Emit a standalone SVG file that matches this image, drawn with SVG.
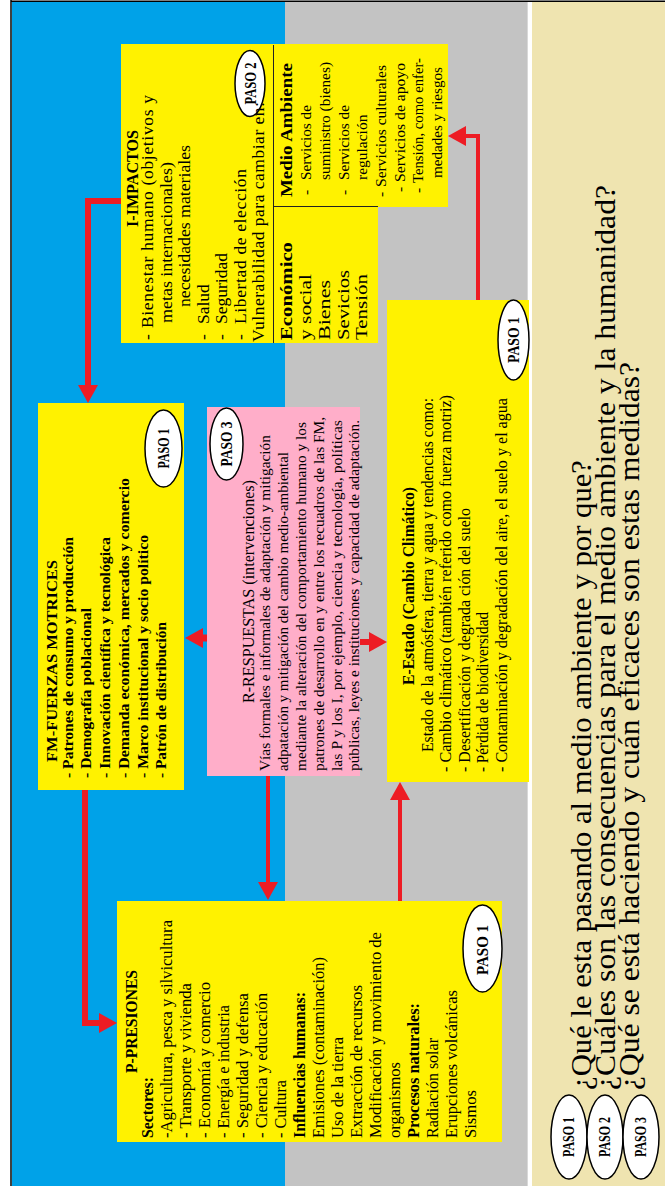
<svg xmlns="http://www.w3.org/2000/svg" width="665" height="1186" viewBox="0 0 665 1186">
<defs>
<style>
.t,.t text{font-family:"Liberation Serif","Times New Roman",serif;fill:#000}
.b{font-weight:bold}
.yb{fill:#FFF200}
.pk{fill:#FFAEC9}
.ar{fill:none;stroke:#ED1C24;stroke-linejoin:miter;marker-end:url(#ah)}
.ov{fill:#fff;stroke:#000;stroke-width:1.5}
.f17{font-size:17.5px}.f155{font-size:15.5px}.f16{font-size:16px}.f15{font-size:15px}.f165{font-size:16.5px}
.pa{font-size:16px;font-weight:bold;text-anchor:middle}
.q{font-size:29px}
</style>
<marker id="ah" viewBox="0 0 18 20" markerWidth="18" markerHeight="20" refX="0" refY="10" orient="auto" markerUnits="userSpaceOnUse">
<path d="M0,0 L18,10 L0,20 z" fill="#ED1C24"/>
</marker>
</defs>
<g id="background">
<rect x="0" y="0" width="665" height="1186" fill="#fff"/>
<rect x="12" y="2" width="273" height="1184" fill="#00A2E8"/>
<rect x="285" y="2" width="242" height="1184" fill="#C3C3C3"/>
<rect x="532" y="2" width="133" height="1184" fill="#EFE4B0"/>
<line x1="527.5" y1="2" x2="527.5" y2="1186" stroke="#d8d8d8" stroke-width="1"/>
<line x1="11" y1="0" x2="11" y2="1186" stroke="#000" stroke-width="1.5"/>
<line x1="11" y1="1.2" x2="665" y2="1.2" stroke="#000" stroke-width="1.5"/>
</g>
<g id="connectors">
<path class="ar" stroke-width="6" d="M121,201 H88 V385"/>
<path class="ar" stroke-width="6" d="M85,790 V1023 H99"/>
<path class="ar" stroke-width="7" d="M207,638 H203"/>
<path class="ar" stroke-width="6" d="M360,642 H369"/>
<path class="ar" stroke-width="4" d="M268,776 V882"/>
<path class="ar" stroke-width="4" d="M400,901 V800"/>
<path class="ar" stroke-width="4" d="M478,300 V136 H466"/>
</g>
<g id="node-impactos">
<path class="yb" d="M121,44 H448 V207 H378 V343 H121 Z"/>
<line x1="273.5" y1="45" x2="273.5" y2="343" stroke="#222" stroke-width="1"/>
<line x1="273.5" y1="206.5" x2="378" y2="206.5" stroke="#222" stroke-width="1"/>
<ellipse class="ov" cx="250" cy="83.5" rx="15" ry="33"/>
<g transform="translate(0,1186) rotate(-90)" class="t">
<text class="b" x="1007.5" y="138" font-size="17" text-anchor="middle" textLength="97" lengthAdjust="spacingAndGlyphs">I-IMPACTOS</text>
<g class="f17">
<text x="846" y="153">-</text><text x="858" y="153" textLength="233" lengthAdjust="spacing">Bienestar humano (objetivos y</text>
<text x="863" y="172" textLength="161" lengthAdjust="spacingAndGlyphs">metas internacionales)</text>
<text x="879" y="190" textLength="162" lengthAdjust="spacingAndGlyphs">necesidades materiales</text>
<text x="846" y="209">-</text><text x="862" y="209">Salud</text>
<text x="846" y="227">-</text><text x="862" y="227">Seguridad</text>
<text x="846" y="246">-</text><text x="862" y="246" textLength="155" lengthAdjust="spacing">Libertad de elección</text>
<text x="844" y="264" textLength="240" lengthAdjust="spacing">Vulnerabilidad para cambiar en:</text>
</g>
<text class="b" x="846" y="292" font-size="17" textLength="98" lengthAdjust="spacingAndGlyphs">Económico</text>
<g class="f16">
<text x="846" y="311" textLength="66" lengthAdjust="spacingAndGlyphs">y social</text>
<text x="846" y="330" textLength="60" lengthAdjust="spacingAndGlyphs">Bienes</text>
<text x="846" y="349" textLength="70" lengthAdjust="spacingAndGlyphs">Sevicios</text>
<text x="846" y="367" textLength="66" lengthAdjust="spacingAndGlyphs">Tensión</text>
</g>
<text class="b" x="989" y="292" font-size="16.5" textLength="134" lengthAdjust="spacingAndGlyphs">Medio Ambiente</text>
<g class="f155">
<text x="991" y="311">-</text><text x="1006" y="311" textLength="75" lengthAdjust="spacingAndGlyphs">Servicios de</text>
<text x="1006" y="330" textLength="118" lengthAdjust="spacingAndGlyphs">suministro (bienes)</text>
<text x="991" y="349">-</text><text x="1006" y="349" textLength="75" lengthAdjust="spacingAndGlyphs">Servicios de</text>
<text x="1006" y="367">regulación</text>
<text x="989" y="386">-</text><text x="999" y="386" textLength="122" lengthAdjust="spacingAndGlyphs">Servicios culturales</text>
<text x="994" y="405">-</text><text x="1004" y="405" textLength="119" lengthAdjust="spacingAndGlyphs">Servicios de apoyo</text>
<text x="993" y="423">-</text><text x="1003" y="423" textLength="125" lengthAdjust="spacingAndGlyphs">Tensión, como enfer-</text>
<text x="1008" y="442" textLength="111" lengthAdjust="spacingAndGlyphs">medades y riesgos</text>
</g>
<text class="pa" x="1102.5" y="255.5" font-size="15" textLength="42" lengthAdjust="spacingAndGlyphs">PASO 2</text>
</g>
</g>
<g id="node-fuerzas-motrices">
<rect class="yb" x="38" y="403" width="146" height="387"/>
<ellipse class="ov" cx="163.5" cy="448.5" rx="18.5" ry="38.5"/>
<g transform="translate(0,1186) rotate(-90)" class="t b" font-size="15.6">
<text x="424" y="57" textLength="202" lengthAdjust="spacingAndGlyphs">FM-FUERZAS MOTRICES</text>
<text x="408" y="73" textLength="241" lengthAdjust="spacingAndGlyphs">- Patrones de consumo y producción</text>
<text x="408" y="91" textLength="170" lengthAdjust="spacingAndGlyphs">- Demografía poblacional</text>
<text x="408" y="110" textLength="241" lengthAdjust="spacingAndGlyphs">- Innovación científica y tecnológica</text>
<text x="408" y="129" textLength="300" lengthAdjust="spacingAndGlyphs">- Demanda económica, mercados y comercio</text>
<text x="408" y="148" textLength="243" lengthAdjust="spacingAndGlyphs">- Marco institucional y socio político</text>
<text x="408" y="166" textLength="156" lengthAdjust="spacingAndGlyphs">- Patrón de distribución</text>
<text class="pa" x="737.5" y="169" textLength="40" lengthAdjust="spacingAndGlyphs">PASO 1</text>
</g>
</g>
<g id="node-respuestas">
<rect class="pk" x="207" y="407" width="153" height="369"/>
<ellipse class="ov" cx="226.5" cy="444" rx="16.5" ry="36"/>
<g transform="translate(0,1186) rotate(-90)" class="t f15">
<text x="483" y="254" font-size="16" textLength="223" lengthAdjust="spacingAndGlyphs">R-RESPUESTAS (intervenciones)</text>
<text x="415" y="270" textLength="336" lengthAdjust="spacingAndGlyphs">Vías formales e informales de adaptación y mitigación</text>
<text x="415" y="288" textLength="319" lengthAdjust="spacingAndGlyphs">adpatación y mitigación del cambio medio-ambiental</text>
<text x="415" y="306" textLength="349" lengthAdjust="spacingAndGlyphs">mediante la alteración del comportamiento humano y los</text>
<text x="415" y="324" textLength="354" lengthAdjust="spacingAndGlyphs">patrones de desarrollo en y entre los recuadros de las FM,</text>
<text x="415" y="342" textLength="351" lengthAdjust="spacingAndGlyphs">las P y los I, por ejemplo, ciencia y tecnología, políticas</text>
<text x="415" y="359" textLength="351" lengthAdjust="spacingAndGlyphs">públicas, leyes e instituciones y capacidad de adaptación.</text>
<text class="pa" x="742" y="232" textLength="45" lengthAdjust="spacingAndGlyphs">PASO 3</text>
</g>
</g>
<g id="node-estado">
<rect class="yb" x="387" y="300" width="142" height="482"/>
<ellipse class="ov" cx="513.5" cy="340" rx="15.5" ry="40"/>
<g transform="translate(0,1186) rotate(-90)" class="t f16">
<text class="b" x="501" y="414" textLength="198" lengthAdjust="spacingAndGlyphs">E-Estado (Cambio Climático)</text>
<text x="434" y="433" textLength="354" lengthAdjust="spacingAndGlyphs">Estado de la atmósfera,  tierra y agua  y tendencias como:</text>
<text x="414" y="451" textLength="377" lengthAdjust="spacingAndGlyphs">- Cambio climático (también referido como fuerza motriz)</text>
<text x="414" y="470" textLength="264" lengthAdjust="spacingAndGlyphs">- Desertificación y degrada ción del suelo</text>
<text x="414" y="488" textLength="160" lengthAdjust="spacingAndGlyphs">- Pérdida de biodiversidad</text>
<text x="414" y="507" textLength="374" lengthAdjust="spacingAndGlyphs">- Contaminación y degradación del aire, el suelo y el agua</text>
<text class="pa" x="846" y="519" textLength="46" lengthAdjust="spacingAndGlyphs">PASO 1</text>
</g>
</g>
<g id="node-presiones">
<rect class="yb" x="117" y="901" width="385" height="241"/>
<ellipse class="ov" cx="482.5" cy="948.5" rx="19.5" ry="43.5"/>
<g transform="translate(0,1186) rotate(-90)" class="t f165">
<text class="b" x="164.5" y="137" font-size="16" text-anchor="middle" textLength="103" lengthAdjust="spacingAndGlyphs">P-PRESIONES</text>
<text class="b" x="48" y="153" font-size="16" textLength="61" lengthAdjust="spacingAndGlyphs">Sectores:</text>
<text x="48" y="172" textLength="218" lengthAdjust="spacingAndGlyphs">-Agricultura, pesca y silvicultura</text>
<text x="48" y="191" textLength="155" lengthAdjust="spacingAndGlyphs">- Transporte y vivienda</text>
<text x="48" y="210" textLength="156" lengthAdjust="spacingAndGlyphs">- Economía y comercio</text>
<text x="48" y="229" textLength="133" lengthAdjust="spacingAndGlyphs">- Energía e industria</text>
<text x="48" y="248" textLength="145" lengthAdjust="spacingAndGlyphs">- Seguridad y defensa</text>
<text x="48" y="267" textLength="145" lengthAdjust="spacingAndGlyphs">- Ciencia y educación</text>
<text x="48" y="286" textLength="58" lengthAdjust="spacingAndGlyphs">- Cultura</text>
<text class="b" x="48" y="305" font-size="16" textLength="146" lengthAdjust="spacingAndGlyphs">Influencias humanas:</text>
<text x="48" y="324" textLength="181" lengthAdjust="spacingAndGlyphs">Emisiones (contaminación)</text>
<text x="48" y="343" textLength="101" lengthAdjust="spacingAndGlyphs">Uso de la tierra</text>
<text x="48" y="362" textLength="153" lengthAdjust="spacingAndGlyphs">Extracción de recursos</text>
<text x="48" y="381" textLength="206" lengthAdjust="spacingAndGlyphs">Modificación y movimiento de</text>
<text x="48" y="400" textLength="76" lengthAdjust="spacingAndGlyphs">organismos</text>
<text class="b" x="48" y="419" font-size="16" textLength="135" lengthAdjust="spacingAndGlyphs">Procesos naturales:</text>
<text x="48" y="438" textLength="100" lengthAdjust="spacingAndGlyphs">Radiación solar</text>
<text x="48" y="457" textLength="148" lengthAdjust="spacingAndGlyphs">Erupciones volcánicas</text>
<text x="48" y="476" textLength="48" lengthAdjust="spacingAndGlyphs">Sismos</text>
<text class="pa" x="236" y="488" font-size="17" textLength="50" lengthAdjust="spacingAndGlyphs">PASO 1</text>
</g>
</g>
<g id="legend">
<ellipse class="ov" cx="569" cy="1137" rx="18" ry="42"/>
<ellipse class="ov" cx="605" cy="1137" rx="18" ry="42"/>
<ellipse class="ov" cx="641" cy="1137" rx="18" ry="42"/>
<g transform="translate(0,1186) rotate(-90)" class="t">
<text class="pa" x="49" y="573.5" font-size="14" textLength="40" lengthAdjust="spacingAndGlyphs">PASO 1</text>
<text class="pa" x="49" y="609.5" font-size="14" textLength="40" lengthAdjust="spacingAndGlyphs">PASO 2</text>
<text class="pa" x="49" y="645.5" font-size="14" textLength="40" lengthAdjust="spacingAndGlyphs">PASO 3</text>
<text class="q" x="96" y="591" textLength="630" lengthAdjust="spacingAndGlyphs">¿Qué le esta pasando al medio ambiente y por que?</text>
<text class="q" x="96" y="615" textLength="905" lengthAdjust="spacingAndGlyphs">¿Cuáles son las consecuencias para el medio ambiente y la humanidad?</text>
<text class="q" x="96" y="639" textLength="728" lengthAdjust="spacingAndGlyphs">¿Qué se está haciendo y cuán eficaces son estas medidas?</text>
</g>
</g>
</svg>
